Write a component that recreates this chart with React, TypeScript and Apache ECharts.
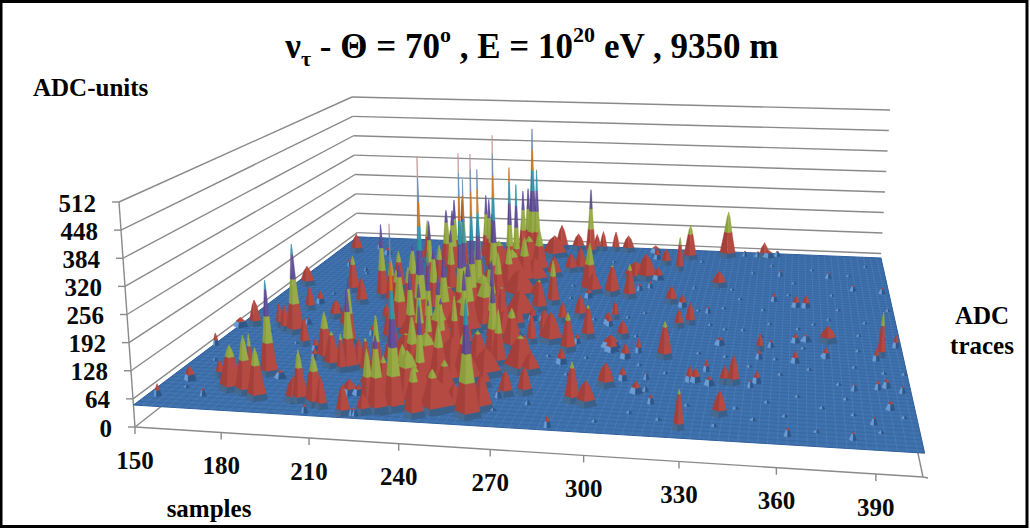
import React, { useEffect, useRef } from "react";
import * as echarts from "echarts";

const adcTicks = [0, 64, 128, 192, 256, 320, 384, 448, 512];
const sampleTicks = [150, 180, 210, 240, 270, 300, 330, 360, 390];
const SAMPLE_MIN = 150, SAMPLE_MAX = 404, TRACE_MAX = 100, ADC_MAX = 512, PEDESTAL = 50;

// [sample, trace, peak ADC, half width in samples]
const leftPeaks = [
  [154,4,78,1.2],[158,11,83,2],[169,5,68,1],[151,27,81,1],[176,8,155,3.3],[167,13,91,1.4],[175,10,121,1.7],[182,7,185,2.7],
  [188,5,169,2.6],[178,13,158,1.2],[183,15,278,2.4],[188,14,68,2],[156,38,117,1.9],[151,37,74,2.7],[175,35,283,2.6],[166,38,112,1.2],
  [170,36,117,1.5],[184,29,122,1.5],[156,63,104,2.5],[170,48,114,1.6],[171,52,84,1.6],[176,40,66,1.5],[190,27,80,1.5],[193,23,77,1.4],
  [197,23,169,2.5],[202,20,136,2.5],[184,44,97,2],[192,39,109,1.9],[209,19,249,2.4],[207,18,142,1.4],[179,60,152,2.1],[164,77,72,1],
  [159,88,105,2.3],[201,5,107,2.6],[203,5,169,2],[206,6,119,1.6],[209,4,163,2.6],[212,3,122,1.6],[221,1,118,1.9],[208,1,68,1],[225,1,66,1],
  [217,9,85,2.7],[220,9,73,2],[168,91,72,1],[194,57,258,2],[188,53,121,2],[182,47,83,2],[200,31,218,1.8],[174,74,64,1],[212,20,123,1.8],
  [216,18,135,1.8],[220,18,195,1.8],[205,36,76,1.2],[213,34,128,1.9],[218,29,203,1.5],
];
const ridgePeaks = [
  [236,4,470,2.6],[228,3,190,2.3],[231,3,221,2.6],[227,2,95,2],[224,1,68,1],[221,23,111,1.8],[205,44,96,1.6],[200,54,178,2],[244,2,164,2.6],
  [241,10,271,2],[249,4,147,3.2],[235,24,205,1.8],[261,3,314,3.2],[239,25,206,2.1],[241,30,190,1.8],[248,16,109,2],[260,15,92,2],[257,27,248,2.5],
  [260,25,185,2.1],[221,41,505,2.7],[230,32,292,1.8],[234,46,500,2],[237,49,490,2],[238,52,439,2],[235,47,427,1.6],[211,81,250,1.8],[223,86,250,1.8],
  [226,83,248,1.8],[238,91,250,1.8],[240,92,255,1.8],[209,78,228,2.2],[238,78,364,1.8],[242,76,320,1.8],[243,90,450,2.8],[245,90,322,1.8],[238,64,500,2.1],
  [235,10,167,3],[229,9,143,2.6],[242,6,140,3.2],[250,9,142,3.3],[255,6,106,2.6],[264,6,128,2.9],[233,18,194,2.8],[243,17,181,2.7],[251,19,158,3.1],
  [253,24,136,3.5],[223,32,241,2.2],[229,28,225,2.2],[235,30,241,2.2],[243,33,241,2.2],[252,36,258,1.9],[214,39,222,3],[220,42,266,2.3],[231,40,249,2.7],
  [240,41,235,3],[246,46,212,3.1],[232,58,264,2],[226,60,254,2],[220,63,225,2.1],[229,68,250,2.1],[243,58,188,2.4],[244,65,181,2.5],[248,71,183,3],
  [251,79,174,3],[220,51,217,2.4],[208,56,207,2.4],[213,66,170,2.1],[197,83,176,1.6],[195,83,85,2.5],[175,87,72,1.8],[197,63,160,2.1],[206,58,174,2],
  [205,50,161,2],[210,50,170,2],[210,64,245,2],[213,76,235,2.4],[216,79,270,2],[229,80,215,2.4],[233,78,142,5],[231,58,164,5.7],[245,44,172,5.4],
  [235,30,165,5],[238,18,158,5.5],[238,8,165,6],[250,5,118,5],[233,4,106,5],[250,62,125,5.8],[255,39,116,5.3],[245,82,144,4.5],[253,91,114,4.6],[253,17,121,4],
];
const ridgeShoulders = [
  [231,14,125,5],[238,40,140,6],[240,52,150,6],[243,70,150,5.5],[246,75,130,5],[228,22,130,6],[245,22,128,6],[225,12,125,5.5],[246,12,120,5],
  [258,20,115,4.5],[256,50,120,5],[252,72,120,4.5],[222,35,120,5],[228,48,130,5],[236,70,125,5],
];
const middlePeaks = [
  [269,12,107,2],[275,13,114,2],[267,11,68,1],[269,23,135,4.9],[273,22,99,2.8],[282,27,87,1.8],[292,11,142,2],[297,10,107,2.6],[300,21,90,2.4],
  [287,40,136,1.9],[282,33,147,2.2],[274,37,128,3.3],[267,36,128,1.5],[271,37,125,1.1],[274,48,104,1.6],[280,51,110,2],[292,48,83,1.5],[293,54,84,1.2],
  [297,36,81,3.3],[258,61,99,2.5],[279,63,76,1.6],[288,65,93,2],[280,66,108,2.9],[284,37,76,1.1],[262,48,83,1.6],[266,48,77,1.2],[258,44,116,1.9],
  [261,33,152,2.9],[249,49,132,2],[265,80,105,2.2],[269,81,120,2.2],[278,67,188,2.9],[266,58,172,2],[269,94,252,1.8],[254,97,125,2.4],[262,97,100,2.4],
  [271,97,100,1.4],[274,97,110,1.4],[280,97,110,1.4],[286,97,100,2.3],[288,66,132,2.5],[259,76,110,2.6],[262,54,134,2.4],[269,43,104,1.9],[267,30,100,1.8],
  [267,16,85,1.7],[278,9,62,1],[288,1,76,1],
];
const rightPeaks = [
  [316,93,155,2.3],[313,84,150,1.3],[299,97,72,2.3],[301,92,82,1.4],[306,88,97,1.8],[296,64,145,2],[299,79,116,3],[295,79,90,3],[314,62,98,2],[319,60,84,1.6],
  [324,50,110,1.5],[320,48,98,1.5],[318,32,142,2.1],[304,31,87,1.8],[308,34,87,1.1],[298,34,83,2.5],[300,41,96,1.9],[294,51,96,1.2],[293,47,85,1.2],[299,69,70,1.2],
  [303,71,70,1],[295,77,100,4.3],[300,77,118,3.4],[305,77,86,2.2],[332,74,95,2.5],[333,96,190,2.8],[350,97,95,1.8],[352,97,72,2.3],[356,98,66,1.4],[341,97,66,1],
  [347,97,66,1.4],[356,66,73,1.2],[365,63,81,1.6],[369,63,84,1.6],[358,83,66,1],[379,83,66,1.2],[389,75,66,1.2],[401,74,67,1.2],[330,57,68,1],[337,40,70,1.8],
  [352,38,93,1.1],[356,40,68,1.1],[352,34,72,1.1],[365,33,80,1.4],[365,43,73,1.5],[369,44,66,1.9],[377,44,92,2.6],[376,36,77,1.4],[396,38,162,1.1],[394,36,80,1.1],
  [402,43,81,1.1],[334,27,80,1],[329,22,88,1.4],[331,22,83,1.7],[336,21,71,1.7],[344,22,118,1.7],[341,22,93,1.4],[350,21,67,1],[352,23,79,1.4],[312,16,78,2],
  [306,21,81,1.4],[314,22,66,1],[301,18,104,2.4],[318,12,71,1],[329,3,138,1.3],[341,9,106,1.9],[385,22,66,1],[393,23,71,1],[396,24,71,1.3],[401,22,67,1],
  [396,15,70,1.3],[390,9,66,1],[363,3,68,1],[383,3,67,1],[315,17,64,1],
];
// small pedestal ripples [sample, trace]
const ripples = [
  [158,20],[165,35],[172,58],[176,72],[186,24],[195,66],[160,50],[205,75],[214,88],[222,60],[168,14],[244,78],[262,87],[270,70],[282,88],[290,78],[300,92],
  [312,86],[322,91],[330,80],[338,72],[346,84],[354,90],[364,78],[372,88],[380,71],[388,85],[396,92],[402,63],[392,55],[382,62],[372,53],[362,70],[352,60],
  [342,66],[332,50],[322,72],[312,70],[305,55],[345,48],[336,60],[355,52],[366,50],[378,56],[389,48],[398,47],[340,34],[352,45],[360,27],[370,30],[380,24],
  [386,32],[396,30],[403,30],[346,12],[356,15],[366,18],[374,14],[382,18],[392,6],[400,12],[330,12],[322,6],[312,8],[302,4],[296,13],[286,22],[276,15],[268,6],
  [310,28],[320,25],[330,35],[316,45],[305,42],[290,30],[276,30],[299,52],[286,50],[272,62],[262,70],[340,5],[352,8],[372,5],[384,12],[358,34],[368,40],[388,40],
  [326,58],[338,48],[349,30],[362,10],[375,37],[160,8],[180,30],[200,15],[215,45],[190,70],[235,68],[250,75],
];

const bandTops = [64, 128, 192, 256, 320, 384, 448, 512];
const bandLeft = ["#45698f", "#a53f3a", "#8a9f3c", "#57468a", "#2a8799", "#c0660f", "#5c7ea8", "#bd8a8a"];
const bandRight = ["#3a5f88", "#b54a43", "#98ab47", "#645299", "#3495a8", "#cc7420", "#6a8bb3", "#c79a9a"];
const SURFACE = "#3f71ad";

const FONT = '"Liberation Serif", "Times New Roman", serif';

type P = [number, number];
function makeH(p0: P, p1: P, p2: P, p3: P) {
  const dx1 = p1[0] - p2[0], dx2 = p3[0] - p2[0], sx = p0[0] - p1[0] + p2[0] - p3[0];
  const dy1 = p1[1] - p2[1], dy2 = p3[1] - p2[1], sy = p0[1] - p1[1] + p2[1] - p3[1];
  const det = dx1 * dy2 - dx2 * dy1;
  const g = (sx * dy2 - dx2 * sy) / det, h = (dx1 * sy - sx * dy1) / det;
  const a = p1[0] - p0[0] + g * p1[0], b = p3[0] - p0[0] + h * p3[0];
  const d = p1[1] - p0[1] + g * p1[1], e = p3[1] - p0[1] + h * p3[1];
  return (u: number, v: number): P => {
    const w = 1 + g * u + h * v;
    return [(a * u + b * v + p0[0]) / w, (d * u + e * v + p0[1]) / w];
  };
}
// The box the 3-D plot sits in, as it appears on the page.
const floorH = makeH([135, 427], [923, 477], [880, 274], [358, 252]);
const roofH = makeH([119, 202], [940, 233], [890, 110], [352, 97]);
function project(sample: number, trace: number, adc: number): P {
  const u = (sample - SAMPLE_MIN) / (SAMPLE_MAX - SAMPLE_MIN), v = trace / TRACE_MAX, t = adc / ADC_MAX;
  const f = floorH(u, v), r = roofH(u, v);
  return [f[0] + (r[0] - f[0]) * t, f[1] + (r[1] - f[1]) * t];
}

const line = (a: P, b: P, color = "#8a8a8a", width = 1.4) => ({
  type: "line", silent: true,
  shape: { x1: a[0], y1: a[1], x2: b[0], y2: b[1] },
  style: { stroke: color, lineWidth: width },
});
const label = (text: string, x: number, y: number, align = "center") => ({
  type: "text", silent: true,
  style: { text, x, y, align, verticalAlign: "middle", fontFamily: FONT, fontWeight: "bold", fontSize: 25, fill: "#0a0a0a" },
});

export default function App() {
  const ref = useRef<HTMLDivElement>(null);
  useEffect(() => {
    document.body.style.margin = "0";
    const chart = echarts.init(ref.current!, undefined, { renderer: "svg" });

    const marks = [...leftPeaks, ...ridgePeaks, ...ridgeShoulders, ...middlePeaks, ...rightPeaks,
      ...ripples.map(([s, t]) => [s, t, 57, 0.9])]
      .slice().sort((a, b) => b[1] - a[1] || a[0] - b[0]);

    const renderWall = (_p: any, api: any) => {
      const z = api.value(0);
      const c = (s: number, t: number): P => api.coord(project(s, t, z));
      const fl = c(SAMPLE_MIN, 0), bl = c(SAMPLE_MIN, TRACE_MAX), br = c(SAMPLE_MAX, TRACE_MAX);
      return {
        type: "group",
        children: [
          line(fl, bl), line(bl, br), line([fl[0] - 7, fl[1]], fl),
          label(String(z), fl[0] - 23, fl[1] + 1, "right"),
        ],
      };
    };
    const renderSampleTick = (_p: any, api: any) => {
      const s = api.value(0);
      const a: P = api.coord(project(s, 0, 0));
      return {
        type: "group",
        children: [line(a, [a[0], a[1] + 7]), label(String(s), a[0], a[1] + 33)],
      };
    };
    const renderBox = (_p: any, api: any) => {
      const c = (s: number, t: number, z: number): P => api.coord(project(s, t, z));
      const fl0 = c(SAMPLE_MIN, 0, 0), fr0 = c(SAMPLE_MAX, 0, 0), br0 = c(SAMPLE_MAX, TRACE_MAX, 0);
      const top = c(SAMPLE_MIN, 0, ADC_MAX);
      return {
        type: "group",
        children: [line(fl0, top), line(fl0, fr0), line(fr0, br0), line(fr0, [fr0[0] + 5, fr0[1] + 1])],
      };
    };
    const renderSurface = (_p: any, api: any) => {
      const c = (s: number, t: number): number[] => api.coord(project(s, t, PEDESTAL));
      const children: any[] = [{
        type: "polygon", silent: true,
        shape: { points: [c(SAMPLE_MIN, 0), c(SAMPLE_MAX, 0), c(SAMPLE_MAX, TRACE_MAX), c(SAMPLE_MIN, TRACE_MAX)] },
        style: { fill: SURFACE, stroke: "#2f5f9c", lineWidth: 1 },
      }];
      for (let s = SAMPLE_MIN + 3; s < SAMPLE_MAX; s += 3) {
        children.push(line(c(s, 0) as P, c(s, TRACE_MAX) as P, "rgba(135,180,230,0.22)", 0.8));
      }
      for (let t = 1.5; t < TRACE_MAX; t += 1.5) {
        children.push(line(c(SAMPLE_MIN, t) as P, c(SAMPLE_MAX, t) as P, "rgba(25,60,110,0.2)", 0.8));
      }
      return { type: "group", children };
    };
    const renderPeak = (_p: any, api: any) => {
      const s = api.value(0), t = api.value(1), z = api.value(2);
      const w = api.value(3) * (z > 90 ? 1.45 : 1.15);
      const radius = (lv: number) => {
        const rest = Math.max(0, 1 - (lv - PEDESTAL) / (z - PEDESTAL));
        return w * Math.exp(-(lv - PEDESTAL) / 190) * Math.pow(rest, 0.5);
      };
      const L = (lv: number) => api.coord(project(s - radius(lv), t, lv));
      const F = (lv: number) => api.coord(project(s, t - radius(lv) * 0.35, lv));
      const R = (lv: number) => api.coord(project(s + radius(lv), t, lv));
      const children: any[] = [];
      let lo = PEDESTAL;
      for (let i = 0; i < bandTops.length && lo < z; i++) {
        const hi = Math.min(z, bandTops[i]);
        if (hi <= lo) continue;
        const levels: number[] = [];
        const steps = Math.max(1, Math.ceil((hi - lo) / 16));
        for (let k = 0; k <= steps; k++) levels.push(lo + ((hi - lo) * k) / steps);
        const back = levels.slice().reverse();
        const small = i === 0 && z < 90;
        const fillL = small ? "#6c9cd4" : bandLeft[i];
        const fillR = small ? "#2e5788" : bandRight[i];
        children.push({
          type: "polygon", silent: true,
          shape: { points: [...levels.map(L), ...back.map(F)] },
          style: { fill: fillL, stroke: fillL, lineWidth: 0.35 },
        });
        children.push({
          type: "polygon", silent: true,
          shape: { points: [...levels.map(F), ...back.map(R)] },
          style: { fill: fillR, stroke: fillR, lineWidth: 0.35 },
        });
        lo = hi;
      }
      return { type: "group", children };
    };

    const custom = (data: any[], renderItem: any, z: number) => ({
      type: "custom", coordinateSystem: "cartesian2d", data, renderItem, z,
      clip: false, silent: true, progressive: 0, encode: { x: 0, y: 1 },
    });

    chart.setOption({
      animation: false,
      grid: { left: 0, right: 0, top: 0, bottom: 0 },
      xAxis: { type: "value", min: 0, max: 1030, show: false },
      yAxis: { type: "value", min: 0, max: 530, inverse: true, show: false },
      tooltip: { show: false },
      graphic: [
        { type: "rect", silent: true, shape: { x: 1, y: 1.5, width: 1026, height: 525 }, style: { fill: "none", stroke: "#000", lineWidth: 3 } },
        {
          type: "text", silent: true, x: 532, y: 46,
          style: {
            text: "{a|ν}{s|τ}{a| - Θ = 70}{u|o}{a| , E = 10}{u|20}{a| eV , 9350 m}",
            align: "center", verticalAlign: "middle", fill: "#000",
            rich: {
              a: { fontFamily: FONT, fontWeight: "bold", fontSize: 35, lineHeight: 46, fill: "#000" },
              s: { fontFamily: FONT, fontWeight: "bold", fontSize: 22, verticalAlign: "bottom", fill: "#000" },
              u: { fontFamily: FONT, fontWeight: "bold", fontSize: 22, verticalAlign: "top", fill: "#000" },
            },
          },
        },
        { type: "text", silent: true, style: { text: "ADC-units", x: 33, y: 87, verticalAlign: "middle", fontFamily: FONT, fontWeight: "bold", fontSize: 25, fill: "#000" } },
        { type: "text", silent: true, style: { text: "ADC", x: 982, y: 315, align: "center", verticalAlign: "middle", fontFamily: FONT, fontWeight: "bold", fontSize: 25, fill: "#000" } },
        { type: "text", silent: true, style: { text: "traces", x: 982, y: 345, align: "center", verticalAlign: "middle", fontFamily: FONT, fontWeight: "bold", fontSize: 25, fill: "#000" } },
        { type: "text", silent: true, style: { text: "samples", x: 209, y: 508, align: "center", verticalAlign: "middle", fontFamily: FONT, fontWeight: "bold", fontSize: 25, fill: "#000" } },
      ],
      series: [
        custom(adcTicks.map((v) => [v, 0]), renderWall, 1),
        custom(sampleTicks.map((v) => [v, 0]), renderSampleTick, 2),
        custom([[0, 0]], renderBox, 2),
        custom([[0, 0]], renderSurface, 3),
        custom(marks, renderPeak, 4),
      ],
    });
    return () => chart.dispose();
  }, []);
  return <div ref={ref} style={{ width: 1030, height: 530, background: "#fff" }} />;
}
